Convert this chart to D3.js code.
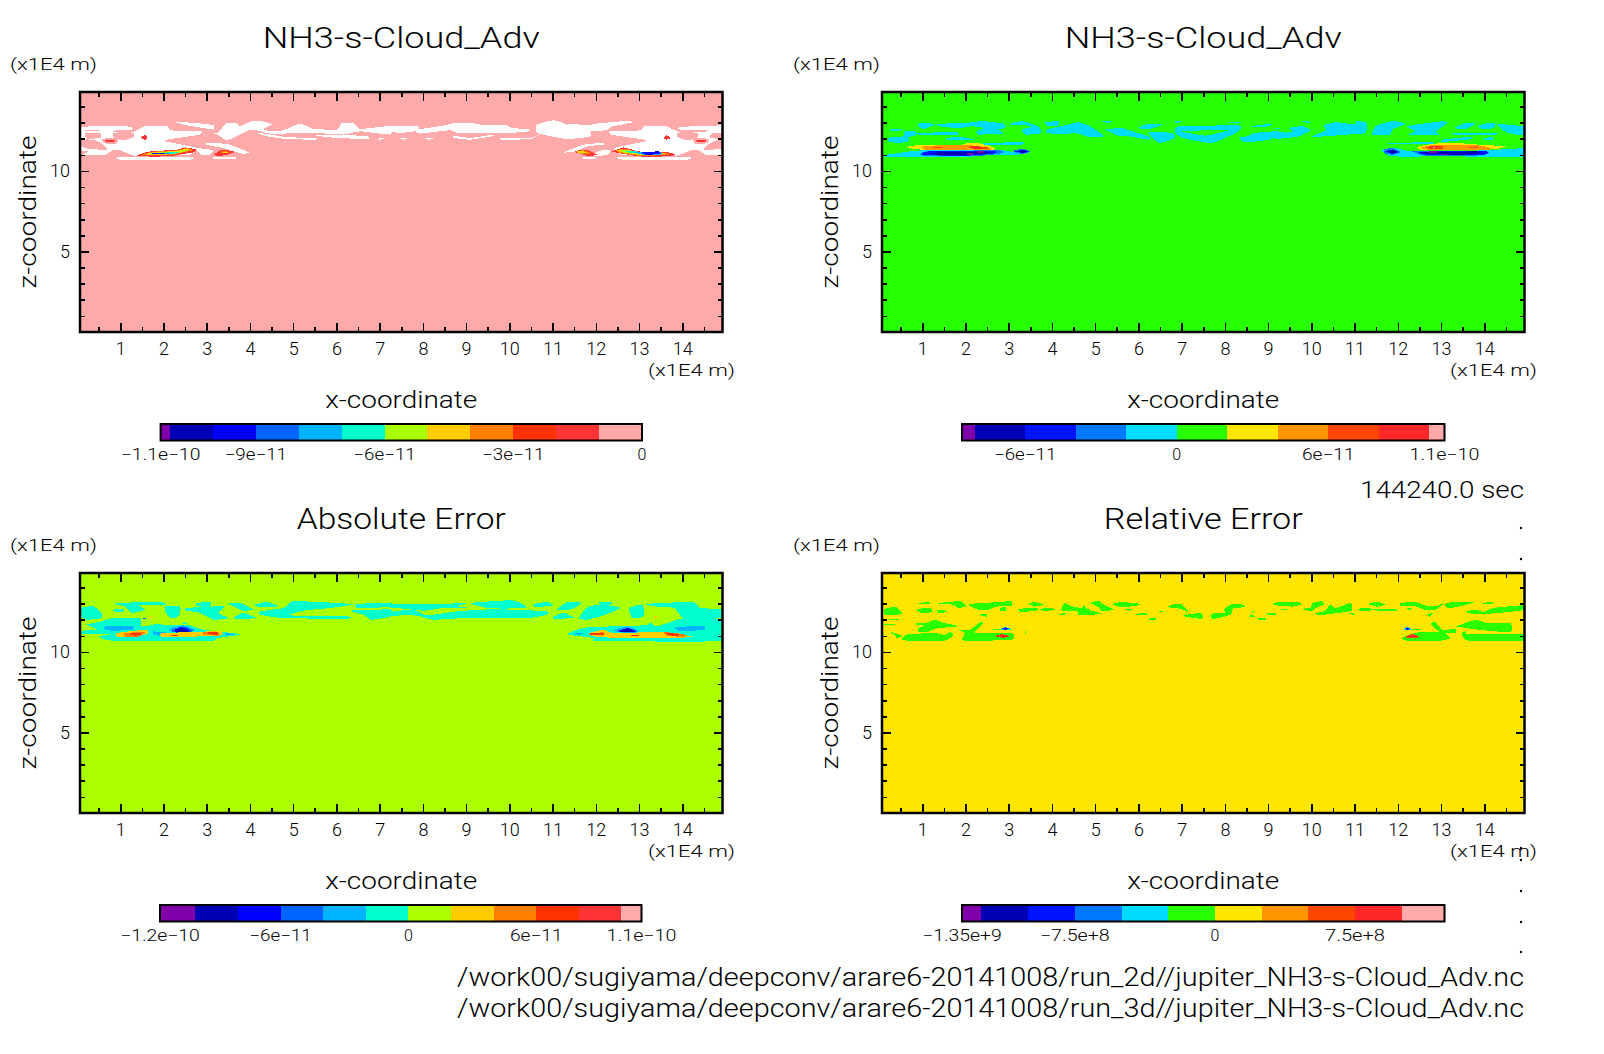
<!DOCTYPE html>
<html>
<head>
<meta charset="utf-8">
<script src="https://cdn.jsdelivr.net/npm/d3@7"></script>
<style>
body { margin: 0; background: #fff; }
text { font-family: "Roboto", "Liberation Sans", sans-serif; font-weight: 300; fill: #000; }
</style>
</head>
<body>
<script>
// Colour lists, lowest class first. Index 12 in fieldA is the white "above range" class
var paletteWide = ["#8000aa", "#0000b4", "#0000ff", "#0064ff", "#00b4ff", "#00ffcc", "#aaff00", "#ffcc00", "#ff8000", "#ff3200", "#ff3535", "#ffaaaa", "#ffffff"];
var paletteNarrow = ["#8000aa", "#0000b4", "#0014ff", "#0078ff", "#00dcff", "#28ff00", "#ffe600", "#ff9600", "#ff4600", "#ff2828", "#ffaaaa"];

// Colour bar class edges
var edgesA = [-1.122e-10, -1.1e-10, -1e-10, -9e-11, -8e-11, -7e-11, -6e-11, -5e-11, -4e-11, -3e-11, -2e-11, -1e-11, 0];
var edgesB = [-8.5e-11, -8e-11, -6e-11, -4e-11, -2e-11, 0, 2e-11, 4e-11, 6e-11, 8e-11, 1e-10, 1.06e-10];
var edgesC = [-1.166e-10, -1e-10, -8e-11, -6e-11, -4e-11, -2e-11, 0, 2e-11, 4e-11, 6e-11, 8e-11, 1e-10, 1.094e-10];
var edgesD = [-1.354e9, -1.25e9, -1e9, -7.5e8, -5e8, -2.5e8, 0, 2.5e8, 5e8, 7.5e8, 1e9, 1.229e9];

var barTicksA = [-1.122e-10, -9e-11, -6e-11, -3e-11, 0];
var barLabelsA = ["−1.1e−10", "−9e−11", "−6e−11", "−3e−11", "0"];
var barTicksB = [-6e-11, 0, 6e-11, 1.06e-10];
var barLabelsB = ["−6e−11", "0", "6e−11", "1.1e−10"];
var barTicksC = [-1.166e-10, -6e-11, 0, 6e-11, 1.094e-10];
var barLabelsC = ["−1.2e−10", "−6e−11", "0", "6e−11", "1.1e−10"];
var barTicksD = [-1.354e9, -7.5e8, 0, 7.5e8];
var barLabelsD = ["−1.35e+9", "−7.5e+8", "0", "7.5e+8"];

var titles = ["NH3-s-Cloud_Adv", "NH3-s-Cloud_Adv", "Absolute Error", "Relative Error"];
var timeLabel = "144240.0 sec";
var filePaths = ["/work00/sugiyama/deepconv/arare6-20141008/run_2d//jupiter_NH3-s-Cloud_Adv.nc",
                 "/work00/sugiyama/deepconv/arare6-20141008/run_3d//jupiter_NH3-s-Cloud_Adv.nc"];
var xMajor = d3.range(1, 15);
var xMinor = d3.range(0.5, 15, 1);
var zMajor = [5, 10];
var zMinor = [1, 2, 3, 4, 6, 7, 8, 9, 11, 12, 13, 14];

// Contour patches: [class index, [x, z, x, z, ...]] in units of 1E4 m
var fieldA = [
 [12,[.09,12.73,1.0,12.82,1.27,12.69,1.27,12.57,.84,12.5,.83,12.42,.53,12.42,.52,12.57,.09,12.5]],
 [12,[.09,12.46,.84,12.4,1.23,12.36,1.58,12.78,2.08,12.78,2.16,12.53,2.5,12.46,2.89,12.5,2.85,12.26,2.5,12.11,2.16,11.98,2.04,11.84,2.73,11.46,2.76,11.28,2.58,11.0,1.69,11.15,1.34,10.94,1.0,11.28,.84,11.32,.65,11.0,.15,11.0,.26,11.2,.09,11.32]],
 [12,[1.0,10.86,2.62,10.86,2.62,10.7,1.0,10.7]],
 [11,[.19,12.32,.53,12.32,.55,12.05,.23,12.0]],
 [11,[.09,11.98,.42,11.9,.61,11.63,.69,11.32,.3,11.36,.09,11.53]],
 [11,[.6,12.0,.95,12.0,.9,11.7,.62,11.72]],
 [11,[.84,12.36,1.31,12.36,1.31,12.11,1.15,11.94,.88,11.98]],
 [10,[.65,11.94,.88,11.94,.84,11.78,.69,11.78]],
 [10,[1.49,12.11,1.58,12.21,1.63,12.05,1.58,11.94,1.5,11.98]],
 [12,[3.0,11.73,3.47,11.67,3.98,11.15,3.81,11.07,3.39,11.42,3.16,11.53,3.0,11.63]],
 [12,[2.76,11.42,3.08,11.32,3.16,11.32,3.08,11.0,2.89,10.97,2.77,11.28]],
 [12,[3.16,10.86,3.66,10.86,3.66,10.72,3.16,10.75]],
 [10,[1.42,11.0,1.69,11.21,2.31,11.32,2.5,11.46,2.76,11.32,2.7,11.15,2.31,11.0,2.16,10.9,1.42,10.9]],
 [8,[1.5,10.98,1.72,11.18,2.3,11.28,2.52,11.42,2.7,11.3,2.35,11.08,2.1,10.96]],
 [7,[1.58,11.0,1.75,11.15,2.3,11.24,2.52,11.36,2.62,11.3,2.3,11.08,2.0,11.0]],
 [6,[1.62,11.03,1.8,11.13,2.3,11.2,2.5,11.32,2.56,11.27,2.25,11.08,2.0,11.03]],
 [5,[1.66,11.05,1.85,11.12,2.3,11.16,2.36,11.12,2.15,11.05]],
 [4,[1.68,11.06,2.05,11.13,2.16,11.08,1.95,11.04]],
 [2,[1.72,11.07,1.85,11.13,2.05,11.12,2.0,11.05]],
 [10,[3.16,10.99,3.31,11.28,3.5,11.28,3.66,11.17,3.47,11.0,3.31,10.94]],
 [8,[3.32,11.1,3.36,11.24,3.48,11.24,3.52,11.14]],
 [7,[3.37,11.13,3.38,11.2,3.48,11.2,3.5,11.15]],
 [6,[3.4,11.15,3.46,11.18,3.48,11.15]],
 [12,[2.93,12.26,3.24,12.36,3.47,12.98,3.7,12.94,3.78,12.78,4.05,13.09,4.28,13.09,4.51,12.88,4.3,12.61,4.47,12.46,4.78,12.53,5.16,12.94,5.47,12.61,6.01,12.57,6.13,12.98,6.4,12.98,6.55,12.61,7.25,12.78,7.25,12.26,6.55,12.46,6.17,12.26,5.47,12.36,4.78,12.32,4.47,12.32,4.24,12.46,4.01,12.57,3.85,12.36,3.47,11.9,3.24,12.26]],
 [12,[2.27,13.05,2.89,12.94,3.16,12.82,3.16,12.57,2.77,12.73,2.46,12.88]],
 [12,[4.16,12.36,4.47,12.26,4.86,12.09,5.51,12.05,5.51,11.94,4.86,11.98,4.39,12.15]],
 [12,[5.51,12.19,6.01,12.05,6.71,11.98,6.71,12.15,6.01,12.26]],
 [12,[6.9,11.98,7.13,12.05,7.02,11.94]],
 [12,[7.25,12.78,7.87,12.78,7.94,12.61,8.41,12.78,8.75,12.98,9.1,12.98,9.33,12.88,9.95,12.82,10.06,12.67,10.45,12.57,10.45,12.46,10.03,12.36,9.48,12.36,8.79,12.36,8.64,12.53,7.94,12.32,7.83,12.46,7.48,12.36,7.25,12.46]],
 [12,[8.71,12.19,9.1,12.05,9.64,12.26,9.6,12.15,9.1,11.94,8.71,12.05]],
 [12,[9.83,12.05,10.49,12.05,10.76,12.36,10.49,11.98,9.83,11.94]],
 [12,[7.44,12.05,7.67,12.05,7.56,11.94]],
 [12,[8.02,12.05,8.25,12.05,8.14,11.94]],
 [12,[10.64,12.88,11.03,13.15,11.34,12.88,11.49,12.94,11.76,12.82,12.03,12.94,12.65,13.09,12.88,13.03,12.34,12.73,12.27,12.53,11.88,12.46,11.88,12.15,11.34,11.98,10.64,12.36]],
 [12,[14.93,12.46,14.36,12.4,13.97,12.36,13.62,12.78,13.12,12.78,13.04,12.53,12.7,12.46,12.31,12.5,12.35,12.26,12.7,12.11,13.04,11.98,13.16,11.84,12.47,11.46,12.44,11.28,12.62,11.0,13.51,11.15,13.86,10.94,14.2,11.28,14.36,11.32,14.55,11.0,14.9,11.0,14.93,11.2]],
 [12,[11.26,11.15,11.72,11.63,12.15,11.73,12.19,11.63,11.8,11.53,11.53,11.21]],
 [12,[11.72,10.86,12.03,10.86,11.96,10.72,11.72,10.72]],
 [12,[11.88,11.0,12.18,11.32,12.34,11.28,12.27,11.0,12.03,10.94]],
 [12,[12.54,10.86,14.15,10.86,14.08,10.69,12.65,10.69]],
 [12,[13.96,12.73,14.93,12.82,14.93,12.5,13.96,12.57]],
 [11,[14.93,12.32,14.67,12.32,14.65,12.05,14.93,12.0]],
 [11,[14.93,11.98,14.78,11.9,14.59,11.63,14.51,11.32,14.9,11.36,14.93,11.53]],
 [11,[14.6,12.0,14.25,12.0,14.3,11.7,14.58,11.72]],
 [11,[14.36,12.36,13.89,12.36,13.89,12.11,14.05,11.94,14.32,11.98]],
 [10,[14.55,11.94,14.32,11.94,14.36,11.78,14.51,11.78]],
 [10,[13.71,12.11,13.62,12.21,13.57,12.05,13.62,11.94,13.7,11.98]],
 [10,[12.38,11.21,12.65,11.46,13.0,11.21,13.65,11.17,13.85,11.0,13.65,10.9,13.0,10.9,12.53,11.11]],
 [8,[12.46,11.26,12.65,11.38,13.0,11.17,13.61,11.11,13.69,10.99,13.0,10.94,12.57,11.11]],
 [7,[12.49,11.28,12.73,11.32,13.0,11.15,13.53,11.11,13.61,11.03,13.0,11.01,12.61,11.15]],
 [6,[12.57,11.26,12.73,11.28,13.04,11.11,13.53,11.11,13.53,11.05,13.04,11.05,12.65,11.15]],
 [5,[12.65,11.26,12.8,11.26,13.11,11.15,13.42,11.15,13.42,11.07,13.11,11.05,12.76,11.15]],
 [4,[12.88,11.15,13.11,11.15,13.5,11.15,13.5,11.0,13.11,11.0]],
 [2,[13.07,11.15,13.46,11.21,13.46,11.05,13.15,11.0]],
 [10,[11.49,11.17,11.66,11.32,11.84,11.28,12.03,10.99,11.8,10.94,11.61,11.11]],
 [8,[11.55,11.17,11.69,11.28,11.84,11.19,11.86,11.07,11.65,11.07]],
 [7,[11.57,11.21,11.69,11.23,11.8,11.15,11.72,11.11,11.61,11.11]],
 [6,[11.65,11.21,11.76,11.17,11.69,11.11]]
];

var fieldB = [
 [4,[.91,12.94,1.11,12.98,1.3,12.88,1.03,12.61,.91,12.78]],
 [4,[1.34,12.88,1.76,12.98,2.07,12.94,2.11,12.73,1.76,12.67,1.38,12.78]],
 [4,[2.03,12.98,2.38,13.09,2.88,12.94,2.92,12.67,2.76,12.57,2.88,12.32,2.3,12.26,2.26,12.46,2.42,12.67,2.07,12.82]],
 [4,[3.04,12.94,3.3,13.09,3.53,12.94,3.73,12.67,3.73,12.32,3.38,12.26,3.3,12.57,3.53,12.73,3.3,12.88,3.07,12.82]],
 [4,[.26,12.57,.53,12.61,.49,12.5,.3,12.5]],
 [4,[.6,12.46,.84,12.46,.84,12.19,.6,12.11]],
 [4,[.91,12.36,1.76,12.4,1.84,12.26,.91,12.26]],
 [4,[.22,12.05,.65,12.15,.68,11.84,.45,11.73,.22,11.84]],
 [4,[1.57,12.05,1.91,12.11,2.22,11.94,1.91,11.9,1.57,11.94]],
 [4,[3.85,13.02,4.15,13.09,4.15,12.82,3.88,12.82]],
 [4,[3.88,12.57,4.38,12.88,4.62,13.02,4.89,12.78,5.2,12.15,4.85,12.11,4.54,12.36,4.23,12.26,3.88,12.36]],
 [4,[5.16,13.07,5.39,13.07,5.27,12.98]],
 [4,[5.23,12.57,5.62,12.67,5.85,12.46,6.24,12.15,6.24,11.94,5.77,12.15,5.54,12.19,5.39,12.36]],
 [4,[6.0,12.67,6.24,12.94,6.55,12.88,6.28,12.61,6.09,12.61]],
 [4,[6.24,12.4,6.78,12.36,6.85,12.05,6.5,11.73,6.35,11.98]],
 [4,[2.45,11.73,3.3,11.78,3.3,11.63,2.45,11.63]],
 [4,[.1,10.97,.45,11.11,.99,11.28,2.85,11.28,3.15,11.15,3.34,11.38,3.5,11.21,3.38,11.05,3.15,11.01,2.69,11.01,2.0,10.86,1.14,10.86,.1,10.86]],
 [3,[.95,11.01,1.11,11.21,2.76,11.28,2.85,11.11,2.53,10.97,2.0,10.9,1.14,10.92]],
 [2,[.99,11.0,1.14,11.21,2.69,11.21,2.61,11.07,2.0,10.94,1.11,10.97]],
 [1,[1.22,11.05,1.38,11.15,2.53,11.15,2.42,11.05,2.0,11.0,1.45,11.0]],
 [0,[2.03,11.1,2.2,11.1,2.2,11.02,2.03,11.02]],
 [0,[2.26,11.21,2.42,11.21,2.42,11.13,2.26,11.13]],
 [3,[3.11,11.28,3.34,11.36,3.5,11.21,3.34,11.07,3.15,11.11]],
 [2,[3.15,11.21,3.34,11.32,3.46,11.21,3.34,11.11]],
 [1,[3.23,11.21,3.34,11.28,3.42,11.19,3.34,11.11]],
 [6,[.62,11.47,.99,11.63,1.91,11.63,2.03,11.73,2.3,11.73,2.69,11.42,2.53,11.28,.99,11.32]],
 [7,[.99,11.47,1.14,11.57,2.07,11.59,2.53,11.47,2.61,11.36,2.38,11.28,1.14,11.28]],
 [8,[2.07,11.53,2.5,11.49,2.53,11.38,2.22,11.36]],
 [8,[1.26,11.51,1.45,11.51,1.45,11.44,1.26,11.44]],
 [9,[2.15,11.53,2.34,11.51,2.36,11.38,2.15,11.4]],
 [4,[6.85,13.09,7.05,13.05,6.85,12.98]],
 [4,[8.09,13.02,8.4,13.05,8.28,12.94]],
 [4,[6.85,12.67,7.01,12.78,8.32,12.82,8.32,12.46,8.01,12.05,7.7,11.73,7.39,11.84,7.01,12.05,6.85,12.36]],
 [5,[7.01,12.46,8.09,12.57,8.01,12.46,7.55,12.19,7.16,12.36]],
 [4,[8.62,12.78,9.09,12.94,9.05,12.78,8.67,12.71]],
 [4,[8.7,12.36,9.17,12.46,9.4,12.36,9.02,11.94,8.48,11.78,8.32,12.05,8.51,12.15]],
 [4,[9.13,12.67,9.29,12.67,9.25,12.57]],
 [4,[9.48,12.67,9.79,12.78,9.98,12.53,9.71,12.15,9.17,11.98,9.09,12.19,9.56,12.46]],
 [4,[9.79,13.09,10.02,13.05,9.9,12.98]],
 [4,[10.29,12.82,10.56,13.02,11.02,12.88,11.05,13.09,11.29,12.98,11.25,12.36,10.87,12.26,10.02,12.11,10.33,12.53]],
 [4,[11.49,12.78,11.87,13.09,12.18,12.94,11.87,12.57,11.83,12.26,11.41,12.26]],
 [4,[12.22,12.78,13.03,13.09,13.14,12.94,12.88,12.46,12.95,12.26,12.26,12.26,12.41,12.46]],
 [4,[13.3,12.67,13.57,12.98,13.8,12.94,13.57,12.61]],
 [4,[13.84,12.78,14.11,12.98,14.26,12.94,14.22,12.67,13.99,12.57]],
 [4,[13.3,12.36,14.26,12.36,14.26,12.26,13.3,12.26]],
 [4,[14.0,12.05,14.19,12.09,14.19,11.94,14.0,11.94]],
 [4,[13.03,11.94,13.65,12.11,13.72,11.98,13.03,11.8]],
 [4,[11.83,11.73,12.79,11.78,12.79,11.65,11.83,11.65]],
 [4,[14.3,12.9,14.93,12.75,14.93,12.2,14.5,12.4]],
 [4,[11.6,11.28,11.87,11.46,12.11,11.32,12.41,11.21,14.07,11.28,14.93,11.4,14.93,10.86,13.42,10.9,11.87,10.9,11.71,11.11]],
 [3,[12.33,11.21,12.45,11.21,14.03,11.21,14.07,11.07,13.8,10.95,12.64,10.95]],
 [2,[12.52,11.17,13.99,11.26,13.99,11.0,12.64,11.0]],
 [1,[12.56,11.15,13.8,11.21,13.92,11.11,13.42,11.0,12.79,11.05]],
 [0,[12.73,11.21,12.91,11.21,12.91,11.13,12.73,11.13]],
 [0,[13.0,11.07,13.15,11.07,13.15,11.0,13.0,11.0]],
 [3,[11.68,11.32,11.87,11.42,12.06,11.17,11.87,11.0,11.68,11.11]],
 [2,[11.73,11.21,11.87,11.32,12.02,11.17,11.87,11.07]],
 [1,[11.79,11.21,11.91,11.28,11.99,11.17,11.87,11.11]],
 [6,[12.45,11.49,12.79,11.67,13.1,11.73,13.65,11.69,13.88,11.63,14.26,11.57,14.5,11.5,14.26,11.36,13.65,11.28,12.6,11.28]],
 [7,[12.52,11.42,12.87,11.63,13.84,11.59,14.14,11.42,14.1,11.32,12.87,11.28]],
 [8,[12.64,11.49,13.03,11.57,13.03,11.38,12.72,11.38]],
 [8,[13.65,11.51,13.84,11.51,13.84,11.44,13.65,11.44]],
 [9,[12.76,11.53,12.95,11.53,12.95,11.4,12.76,11.4]],
 [10,[12.81,11.51,12.87,11.51,12.87,11.44,12.81,11.44]]
];

var fieldC = [
 [5,[.09,12.73,.38,12.83,.57,12.42,.57,12.1,.23,12.0,.09,12.21]],
 [5,[.92,13.04,1.92,13.1,2.04,12.9,1.42,12.94,1.58,12.63,1.27,12.42,1.11,12.83,.92,12.94]],
 [5,[.84,12.63,1.11,12.63,1.04,12.48,.84,12.52]],
 [5,[2.04,12.83,2.39,12.83,2.35,12.21,2.16,12.1,2.04,12.52]],
 [5,[2.77,13.04,3.08,13.1,3.08,12.83,2.93,12.77,2.77,12.9]],
 [5,[2.54,12.73,3.39,12.83,3.27,12.42,3.51,12.1,3.16,12.0,2.85,12.42,2.54,12.56]],
 [5,[3.47,13.04,3.78,13.04,4.08,12.63,3.85,12.56,3.62,12.83]],
 [5,[3.66,12.21,3.85,12.42,4.16,12.1,3.66,12.06]],
 [5,[4.12,12.94,4.39,13.1,4.66,12.83,4.2,12.77]],
 [5,[4.24,12.52,4.78,12.73,5.0,13.15,6.01,13.04,6.4,12.94,5.86,12.73,5.24,12.56,4.93,12.27,6.25,12.21,6.25,12.06,4.78,12.1,4.24,12.31]],
 [5,[6.32,12.56,7.25,12.63,7.25,12.21,6.82,12.0,6.63,12.31]],
 [5,[6.48,12.98,7.25,13.04,7.25,12.79,6.48,12.73]],
 [5,[.23,11.69,.57,11.9,.84,12.1,1.46,12.1,1.5,11.58,1.85,11.73,2.12,11.65,2.54,11.69,2.93,11.38,3.78,11.1,3.24,10.86,3.08,10.69,.84,10.69,.5,10.96,.77,11.1,.11,11.1,.09,11.31,.46,11.38]],
 [5,[2.46,11.85,2.58,11.73,2.45,11.73]],
 [4,[.65,11.58,1.27,11.63,1.29,11.38,.84,11.31,.65,11.38]],
 [4,[1.77,11.27,2.16,11.17,2.0,11.0,1.77,11.06]],
 [4,[3.43,11.17,3.66,11.1,3.43,11.02]],
 [4,[2.16,11.48,2.47,11.65,2.73,11.38,2.62,11.23,2.16,11.27]],
 [3,[2.2,11.38,2.46,11.58,2.7,11.31,2.5,11.17,2.2,11.23]],
 [2,[2.27,11.38,2.43,11.54,2.62,11.31,2.5,11.23,2.27,11.23]],
 [1,[2.31,11.31,2.43,11.48,2.58,11.27,2.31,11.23]],
 [7,[.92,11.17,1.61,11.38,1.61,11.1,.96,10.9]],
 [7,[1.96,11.17,2.77,11.23,3.31,11.31,3.31,11.02,2.0,10.9]],
 [7,[1.69,12.21,1.81,12.15,1.69,12.06]],
 [8,[1.11,11.17,1.58,11.23,1.42,10.94,1.11,10.94]],
 [8,[2.93,11.23,3.27,11.23,3.27,11.02,2.93,11.06]],
 [9,[1.23,11.17,1.54,11.19,1.39,11.02,1.23,11.04]],
 [9,[3.04,11.21,3.24,11.21,3.26,11.06,3.04,11.1]],
 [9,[2.18,11.06,2.33,11.06,2.33,11.0,2.18,11.0]],
 [3,[1.52,12.1,1.6,12.1,1.6,12.02,1.52,12.02]],
 [5,[7.25,12.94,7.87,12.98,8.48,12.98,9.02,13.04,8.79,12.83,9.1,12.73,8.48,12.73,8.02,12.56,7.4,12.73,7.25,12.73]],
 [5,[9.1,13.04,10.06,13.21,10.34,12.92,10.37,12.73,9.87,12.69,9.48,12.73,9.33,12.83]],
 [5,[7.25,12.48,7.79,12.63,8.1,12.27,8.79,12.52,9.41,12.63,10.03,12.63,10.87,12.52,10.87,12.31,10.41,12.1,8.95,12.1,8.25,12.0,7.94,12.21,7.63,12.31,7.25,12.21]],
 [5,[10.58,12.98,10.87,13.1,11.03,12.9,10.58,12.77]],
 [5,[11.03,12.21,11.26,12.42,11.45,12.21,11.49,12.1,11.03,12.06]],
 [5,[11.11,12.63,11.34,13.1,11.68,13.04,11.41,12.63]],
 [5,[11.8,12.77,12.11,12.94,12.57,12.73,12.18,12.27,11.8,12.0,11.61,12.1]],
 [5,[12.07,13.1,12.38,13.1,12.34,12.9,12.11,12.9]],
 [5,[12.77,12.73,13.08,12.94,13.11,12.21,12.84,12.1]],
 [5,[13.15,12.98,14.23,13.1,14.42,12.73,14.93,12.63,14.93,12.1,14.04,12.1,13.81,12.73,13.34,12.83]],
 [5,[11.33,11.1,11.8,11.52,13.11,11.65,13.27,11.8,13.42,11.58,14.04,12.1,14.93,12.0,14.93,10.69,12.03,10.69,11.96,10.86]],
 [4,[11.49,11.17,11.72,11.17,11.6,11.06]],
 [4,[13.19,11.17,13.5,11.1,13.42,10.94,13.19,11.02]],
 [4,[13.84,11.52,14.5,11.63,14.5,11.38,13.96,11.27]],
 [4,[12.42,11.38,12.73,11.58,13.0,11.31,12.88,11.17,12.5,11.23]],
 [3,[12.5,11.31,12.74,11.48,12.96,11.31,12.84,11.23,12.53,11.27]],
 [2,[12.53,11.31,12.74,11.48,12.92,11.27,12.57,11.23]],
 [1,[12.59,11.31,12.74,11.44,12.88,11.27,12.61,11.23]],
 [7,[11.84,11.17,12.18,11.38,12.42,11.17,13.5,11.23,14.23,10.96,13.81,10.86,12.18,10.9,11.88,11.02]],
 [8,[11.86,11.1,12.18,11.23,12.18,11.02,11.88,11.06]],
 [8,[13.58,11.23,14.04,11.1,14.04,10.94,13.65,11.0]],
 [9,[11.88,11.19,12.15,11.19,12.18,11.06,11.88,11.06]],
 [9,[13.64,11.19,13.92,11.1,13.88,10.98,13.64,11.06]],
 [9,[12.82,11.06,13.0,11.06,13.0,11.0,12.82,11.0]],
 [7,[13.35,12.21,13.49,12.15,13.35,12.06]]
];

var fieldD = [
 [5,[.91,13.04,1.18,13.1,1.18,12.98,.91,12.98]],
 [5,[1.38,13.04,1.88,13.15,2.03,12.83,1.84,12.73,1.68,12.94,1.38,12.98]],
 [5,[2.11,12.98,2.8,13.1,3.07,13.15,3.07,12.83,2.76,12.83,2.53,12.63,2.3,12.63,2.11,12.83]],
 [5,[2.8,12.73,2.93,12.77,2.93,12.56,2.8,12.56]],
 [5,[.13,12.67,.37,12.81,.49,12.56,.53,12.35,.22,12.27,.13,12.35]],
 [5,[.89,12.67,1.18,12.73,1.24,12.48,1.03,12.4,.89,12.52]],
 [5,[1.34,12.56,1.49,12.63,1.57,12.48,1.38,12.4]],
 [5,[2.34,12.35,2.5,12.35,2.5,12.19,2.38,12.23]],
 [5,[.23,12.06,.45,12.06,.45,12.0,.23,12.0]],
 [5,[.1,11.75,.37,11.75,.33,11.65,.1,11.65]],
 [5,[1.03,11.73,1.3,12.0,1.45,11.85,1.76,11.65,1.8,11.56,1.38,11.48,1.11,11.23,.91,11.23,.91,11.48,1.03,11.58]],
 [5,[.87,11.79,1.07,11.79,1.03,11.65,.87,11.69]],
 [5,[.23,11.27,.45,11.1,.53,10.96,.41,10.86,.36,11.06]],
 [5,[.54,10.86,.68,11.1,1.3,11.17,1.53,11.06,1.65,11.23,1.72,11.06,1.53,10.71,.6,10.71]],
 [5,[1.8,11.38,2.11,11.38,2.34,11.85,2.42,11.79,2.22,11.17,3.07,11.17,3.07,10.75,1.95,10.71,1.99,11.17]],
 [5,[2.65,11.44,3.07,11.44,3.07,11.38,2.65,11.38]],
 [4,[2.8,11.42,2.92,11.54,3.07,11.42,2.92,11.35]],
 [3,[2.82,11.42,2.92,11.52,3.03,11.42,2.92,11.38]],
 [2,[2.84,11.42,2.92,11.5,3.0,11.42,2.92,11.38]],
 [8,[2.69,11.0,2.84,11.1,3.0,11.0,3.0,10.9,2.73,10.9]],
 [9,[2.76,10.96,2.88,11.06,2.98,10.96,2.88,10.92]],
 [5,[3.21,12.67,3.65,12.73,3.65,12.56,3.3,12.48]],
 [5,[3.46,12.98,3.61,13.1,3.81,12.94,3.61,12.81]],
 [5,[3.73,12.67,3.96,12.73,4.08,12.63,3.81,12.52]],
 [5,[4.17,12.35,4.31,12.42,4.31,12.31,4.17,12.31]],
 [5,[4.23,12.73,4.29,13.04,4.46,12.83,4.69,12.73,4.73,12.94,4.85,12.63,5.16,12.35,4.62,12.31,4.58,12.52,4.23,12.56]],
 [5,[4.89,13.04,5.08,13.19,5.2,12.94,5.43,12.63,5.16,12.52,5.08,12.77]],
 [5,[5.39,12.98,5.62,13.1,6.04,12.98,5.89,12.83,5.54,12.81]],
 [5,[5.66,12.67,5.89,12.67,5.77,12.56]],
 [5,[5.93,12.35,6.16,12.42,6.22,12.27,6.0,12.27]],
 [5,[6.24,12.06,6.39,12.15,6.39,11.96,6.28,11.96]],
 [5,[6.48,12.52,6.56,12.56,6.55,12.44]],
 [5,[6.66,12.79,6.85,12.98,6.85,12.73]],
 [5,[3.37,11.31,3.4,11.31,3.4,11.1,3.37,11.1]],
 [5,[6.85,12.98,6.99,12.98,7.16,12.52,7.09,12.31,7.46,12.42,7.47,12.06,7.05,12.21,7.15,12.48,6.97,12.67,6.85,12.73]],
 [5,[7.69,12.35,7.82,12.42,8.01,12.42,7.97,12.63,8.13,12.94,8.36,12.98,8.48,12.77,8.2,12.73,8.13,12.31,7.78,12.06,7.69,12.1]],
 [5,[8.61,12.48,8.67,12.56,8.68,12.44]],
 [5,[8.59,12.27,8.67,12.31,8.69,12.19,8.59,12.19]],
 [5,[8.78,12.1,8.94,12.1,8.94,11.98,8.78,11.98]],
 [5,[8.94,12.35,9.09,12.44,9.21,12.35,9.06,12.27]],
 [5,[9.09,12.98,9.25,13.1,9.71,13.1,9.75,12.94,9.56,12.81,9.17,12.9]],
 [5,[9.26,12.67,9.48,12.67,9.4,12.58]],
 [5,[9.75,12.67,9.98,12.73,10.02,13.04,10.25,13.15,10.29,12.94,10.1,12.73,10.02,12.52]],
 [5,[10.03,12.35,10.29,12.52,10.44,12.94,10.56,12.73,10.91,13.04,10.94,12.56,10.63,12.42,10.29,12.31]],
 [5,[10.87,12.35,10.94,12.44,11.01,12.31]],
 [5,[11.06,12.67,11.29,12.73,11.49,12.63,11.18,12.52]],
 [5,[11.49,12.67,11.95,12.69,11.95,12.52,11.56,12.52]],
 [5,[11.31,12.98,11.52,13.1,11.73,12.94,11.52,12.81]],
 [5,[12.07,13.04,12.41,13.1,12.6,12.9,12.87,12.83,13.07,13.04,12.87,12.6,12.6,12.63,12.41,12.83,12.07,12.83]],
 [5,[12.22,12.73,12.34,12.73,12.26,12.56]],
 [5,[13.1,12.94,13.26,13.1,13.8,13.1,13.42,12.83,13.26,12.73,13.14,12.73]],
 [5,[13.95,13.04,14.19,13.1,14.19,12.98,13.95,12.98]],
 [5,[13.58,12.52,13.8,12.63,13.99,12.48,14.22,12.73,14.93,12.9,14.93,12.6,14.03,12.35,13.64,12.4]],
 [5,[12.68,12.35,12.81,12.4,12.73,12.19]],
 [5,[12.76,11.79,12.87,11.85,13.03,11.38,13.34,11.42,13.34,11.17,13.1,11.17,13.22,10.86,13.03,10.71,12.18,10.71,12.1,10.86,12.26,11.06,12.49,11.23,12.95,11.23,12.84,11.48]],
 [5,[13.34,11.58,13.8,12.0,14.07,11.79,14.6,11.79,14.6,11.23,13.84,11.38,13.49,11.52]],
 [5,[13.48,11.17,13.57,11.27,13.64,11.1,14.93,11.1,14.93,10.71,13.61,10.71]],
 [5,[12.26,11.42,12.53,11.42,12.53,11.38,12.26,11.38]],
 [4,[12.12,11.42,12.22,11.56,12.33,11.42,12.22,11.35]],
 [3,[12.14,11.42,12.22,11.52,12.31,11.42,12.22,11.38]],
 [2,[12.16,11.42,12.22,11.5,12.29,11.42,12.22,11.38]],
 [8,[12.18,10.96,12.33,11.1,12.49,10.96,12.45,10.86,12.21,10.86]],
 [9,[12.21,10.92,12.33,11.06,12.45,10.94,12.33,10.9]]
];

var cornerDots = [[1521, 528], [1521, 559], [1521, 848], [1521, 860], [1521, 891], [1521, 922], [1521, 952]];

// Layout of the four panels
var plotW = 642.5, plotH = 240;
var panels = [
    {left: 80,  top: 92,  field: fieldA, base: 11, palette: paletteWide,   edges: edgesA, barTicks: barTicksA, barLabels: barLabelsA, barX: [160.6, 642], titleW: 277, unitX: -70},
    {left: 882, top: 92,  field: fieldB, base: 5,  palette: paletteNarrow, edges: edgesB, barTicks: barTicksB, barLabels: barLabelsB, barX: [962, 1444.5], titleW: 277, unitX: -89},
    {left: 80,  top: 573, field: fieldC, base: 6,  palette: paletteWide,   edges: edgesC, barTicks: barTicksC, barLabels: barLabelsC, barX: [160, 641.5], titleW: 209, unitX: -70},
    {left: 882, top: 573, field: fieldD, base: 6,  palette: paletteNarrow, edges: edgesD, barTicks: barTicksD, barLabels: barLabelsD, barX: [962, 1444.5], titleW: 199, unitX: -89}
];

var svg = d3.select("body").append("svg")
    .attr("width", 1604)
    .attr("height", 1054)
    .style("display", "block");

function addText(parent, x, y, str, size, anchor, width) {
    var t = parent.append("text")
        .attr("x", x)
        .attr("y", y)
        .attr("font-size", size)
        .attr("text-anchor", anchor || "middle")
        .text(str);
    if (width) {
        t.attr("textLength", width).attr("lengthAdjust", "spacingAndGlyphs");
    }
    return t;
}

function styleAxis(g) {
    g.select(".domain").remove();
    g.selectAll("line").attr("stroke", "#000").attr("stroke-width", 1.6).attr("shape-rendering", "crispEdges");
    g.selectAll("text").attr("font-size", 18).attr("font-family", "Roboto").attr("font-weight", 400).attr("fill", "#000");
}

panels.forEach(function(p, idx) {
    var g = svg.append("g").attr("transform", "translate(" + p.left + "," + p.top + ")");

    var x = d3.scaleLinear().domain([0.07, 14.93]).range([0, plotW]);
    var z = d3.scaleLinear().domain([0, 14.9]).range([plotH, 0]);

    // Field
    var clipId = "clip" + idx;
    g.append("clipPath").attr("id", clipId)
        .append("rect").attr("width", plotW).attr("height", plotH);

    var plot = g.append("g").attr("clip-path", "url(#" + clipId + ")");
    plot.append("rect")
        .attr("width", plotW)
        .attr("height", plotH)
        .attr("fill", p.palette[p.base]);

    var line = d3.line()
        .curve(d3.curveCardinalClosed.tension(0.5))
        .x(function(d) { return x(d[0]); })
        .y(function(d) { return z(d[1]); });

    plot.selectAll("path.patch")
        .data(p.field)
        .enter().append("path")
        .attr("class", "patch")
        .attr("d", function(d) {
            var pts = [];
            for (var i = 0; i < d[1].length; i += 2) {
                pts.push([d[1][i], d[1][i + 1]]);
            }
            return line(pts);
        })
        .attr("fill", function(d) { return p.palette[d[0]]; })
        .attr("shape-rendering", "crispEdges");

    // Axes, ticks point inward on all four sides
    var bottom = g.append("g").attr("transform", "translate(0," + plotH + ")")
        .call(d3.axisBottom(x).tickValues(xMajor).tickSize(-9).tickPadding(10).tickFormat(d3.format("d")));
    styleAxis(bottom);
    styleAxis(g.append("g").attr("transform", "translate(0," + plotH + ")")
        .call(d3.axisBottom(x).tickValues(xMinor).tickSize(-5).tickFormat("")));
    styleAxis(g.append("g").call(d3.axisTop(x).tickValues(xMajor).tickSize(-9).tickFormat("")));
    styleAxis(g.append("g").call(d3.axisTop(x).tickValues(xMinor).tickSize(-5).tickFormat("")));

    styleAxis(g.append("g")
        .call(d3.axisLeft(z).tickValues(zMajor).tickSize(-9).tickPadding(10).tickFormat(d3.format("d"))));
    styleAxis(g.append("g").call(d3.axisLeft(z).tickValues(zMinor).tickSize(-5).tickFormat("")));
    styleAxis(g.append("g").attr("transform", "translate(" + plotW + ",0)")
        .call(d3.axisRight(z).tickValues(zMajor).tickSize(-9).tickFormat("")));
    styleAxis(g.append("g").attr("transform", "translate(" + plotW + ",0)")
        .call(d3.axisRight(z).tickValues(zMinor).tickSize(-5).tickFormat("")));

    g.append("rect")
        .attr("width", plotW)
        .attr("height", plotH)
        .attr("fill", "none")
        .attr("stroke", "#000")
        .attr("stroke-width", 2.5);

    // Labels
    addText(g, plotW / 2, -44, titles[idx], 30, "middle", p.titleW);
    addText(g, p.unitX, -22, "(x1E4 m)", 17, "start", 87);
    addText(g, plotW - 74.5, 284, "(x1E4 m)", 17, "start", 87);
    addText(g, plotW / 2, 316, "x-coordinate", 24, "middle", 152);
    addText(g, 0, 0, "z-coordinate", 24, "middle", 153)
        .attr("transform", "translate(-44,120) rotate(-90)");

    // Colour bar
    var barY = p.top + 332, barH = 16.5;
    var bar = svg.append("g");
    var bx = d3.scaleLinear().domain([p.edges[0], p.edges[p.edges.length - 1]]).range(p.barX);
    bar.selectAll("rect")
        .data(d3.pairs(p.edges))
        .enter().append("rect")
        .attr("x", function(d) { return bx(d[0]); })
        .attr("y", barY)
        .attr("width", function(d) { return bx(d[1]) - bx(d[0]); })
        .attr("height", barH)
        .attr("fill", function(d, i) { return p.palette[i]; })
        .attr("shape-rendering", "crispEdges");
    bar.append("rect")
        .attr("x", p.barX[0])
        .attr("y", barY)
        .attr("width", p.barX[1] - p.barX[0])
        .attr("height", barH)
        .attr("fill", "none")
        .attr("stroke", "#000")
        .attr("stroke-width", 2);
    p.barTicks.forEach(function(v, i) {
        var s = p.barLabels[i];
        var w = s.length > 1 ? s.length * 9.9 + 3 - 2.5 * (s.split(".").length - 1) : null;
        addText(svg, bx(v), barY + 36, s, 16, "middle", w).attr("font-weight", 400);
    });
});

addText(svg, 1524, 498, timeLabel, 24, "end", 164);
addText(svg, 1524, 986, filePaths[0], 25, "end", 1067);
addText(svg, 1524, 1017, filePaths[1], 25, "end", 1067);

svg.selectAll("circle.dot")
    .data(cornerDots)
    .enter().append("circle")
    .attr("class", "dot")
    .attr("cx", function(d) { return d[0]; })
    .attr("cy", function(d) { return d[1]; })
    .attr("r", 1.2)
    .attr("fill", "#000");
</script>
</body>
</html>
